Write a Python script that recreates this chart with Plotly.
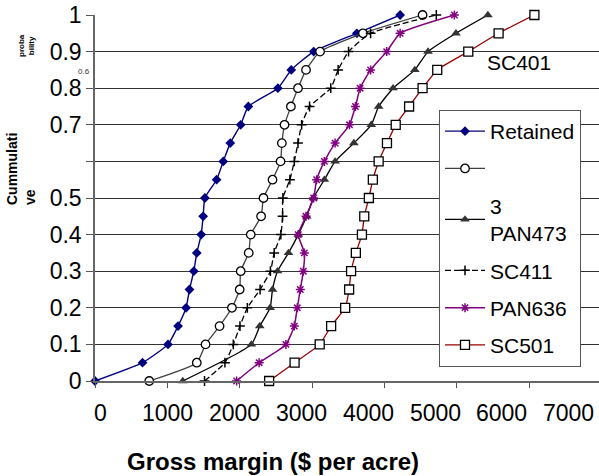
import plotly.graph_objects as go

# cumulative probability levels (shared by all series)
prob = [0, 0.05, 0.1, 0.15, 0.2, 0.25, 0.3, 0.35, 0.4, 0.45, 0.5,
        0.55, 0.6, 0.65, 0.7, 0.75, 0.8, 0.85, 0.9, 0.95, 1.0]

retained = [0, 657, 1009, 1148, 1259, 1306, 1366, 1407, 1468, 1495, 1519,
            1681, 1773, 1870, 2014, 2120, 2528, 2713, 3023, 3620, 4218]
sc401 = [750, 1407, 1528, 1722, 1893, 2000, 2014, 2125, 2153, 2296, 2329,
         2454, 2565, 2583, 2620, 2708, 2806, 2917, 3111, 3704, 4528]
pan473 = [1213, None, 2162, 2278, 2421, 2454, 2523, 2675, 2810, 2926, 3018,
          3171, 3319, 3578, 3819, 3921, 4120, 4421, 4604, 4990, 5431]
sc411 = [1514, 1796, 1912, 2004, 2106, 2282, 2425, 2477, 2569, 2593, 2597,
         2694, 2755, 2806, 2856, 2966, 3259, 3361, 3505, 3810, 4718]
pan636 = [1958, 2269, 2639, 2755, 2796, 2838, 2880, 2894, 2810, 2917, 3023,
          3064, 3171, 3319, 3518, 3600, 3665, 3810, 4032, 4218, 4968]
sc501 = [2407, 2759, 3106, 3264, 3458, 3513, 3540, 3606, 3690, 3722, 3786,
         3841, 3921, 4036, 4157, 4342, 4528, 4731, 5160, 5579, 6074]

names = ["Retained", " ", "3<br>PAN473", "SC411", "PAN636", "SC501"]
x_tick_labels = [0, 1000, 2000, 3000, 4000, 5000, 6000, 7000]
y_tick_vals = [0, 0.1, 0.2, 0.3, 0.4, 0.5, 0.6, 0.7, 0.8, 0.9, 1.0]
y_tick_text = ["0", "0.1", "0.2", "0.3", "0.4", "0.5", "", "0.7", "0.8", "0.9", "1"]

FONT = "Arial, Liberation Sans, sans-serif"
W, H = 599, 476
ML, MR, MT, MB = 95, 0, 15, 95
PW, PH = W - ML - MR, H - MT - MB

def px2paper(px, py):
    return (px - ML) / PW, (H - MB - py) / PH

fig = go.Figure()
styles = [
    (retained, dict(color="#000080", width=1.4, dash="solid"),
     dict(symbol="diamond", size=7.5, color="#000080")),
    (sc401, dict(color="#404040", width=1.3, dash="solid"),
     dict(symbol="circle", size=8.5, color="white", line=dict(color="black", width=1.3))),
    (pan473, dict(color="black", width=1.3, dash="solid"),
     dict(symbol="triangle-up", size=8.5, color="#333333")),
    (sc411, dict(color="black", width=1.3, dash="6px,3px"),
     dict(symbol="cross-thin", size=7, color="black", line=dict(color="black", width=1.5))),
    (pan636, dict(color="#800080", width=1.5, dash="solid"),
     dict(symbol="asterisk", size=7.5, color="#800080", line=dict(color="#800080", width=1.5))),
    (sc501, dict(color="#990000", width=1.3, dash="solid"),
     dict(symbol="square", size=9, color="white", line=dict(color="black", width=1.3))),
]
for name, (xs, ln, mk) in zip(names, styles):
    fig.add_trace(go.Scatter(
        x=xs, y=prob, name=name, mode="lines+markers",
        line=dict(shape="spline", smoothing=0.5, **ln), marker=mk,
        connectgaps=True, cliponaxis=False, legendgroup=name))

fig.update_layout(
    width=W, height=H,
    margin=dict(l=ML, r=MR, t=MT, b=MB, pad=0),
    paper_bgcolor="white", plot_bgcolor="white",
    font=dict(family=FONT, color="black", size=21),
    showlegend=True,
    legend=dict(x=px2paper(439, 0)[0], y=px2paper(0, 110)[1],
                xanchor="left", yanchor="top",
                bordercolor="#555555", borderwidth=1, bgcolor="white",
                font=dict(family=FONT, size=21), itemwidth=40,
                tracegroupgap=7),
    xaxis=dict(range=[0, 6967], tickvals=x_tick_labels[:-1], showticklabels=False,
               ticks="outside", ticklen=5, tickcolor="#555555", tickwidth=1,
               showline=True, linecolor="#666666", linewidth=1.5,
               showgrid=False, zeroline=False),
    yaxis=dict(range=[0, 1], tickvals=y_tick_vals, ticktext=y_tick_text,
               ticks="outside", ticklen=7, tickcolor="#555555",
               tickfont=dict(size=23),
               showline=True, linecolor="#666666", linewidth=1.5,
               showgrid=True, gridcolor="#333333", gridwidth=1, zeroline=False),
)

ann = []
# x tick labels (drawn slightly offset from tick marks, as in the reference)
for v in x_tick_labels:
    px = 100.4 + v * 0.06692
    xp, yp = px2paper(px, 413)
    ann.append(dict(x=xp, y=yp, xref="paper", yref="paper", text=str(v),
                    showarrow=False, xanchor="center", yanchor="middle",
                    font=dict(size=23)))
xp, yp = px2paper(273, 462)
ann.append(dict(x=xp, y=yp, xref="paper", yref="paper",
                text="<b>Gross margin ($ per acre)</b>", showarrow=False,
                xanchor="center", yanchor="middle", font=dict(size=24)))
xp, yp = px2paper(21, 169)
ann.append(dict(x=xp, y=yp, xref="paper", yref="paper",
                text="<b>Cummulati<br>ve</b>", showarrow=False, textangle=-90,
                align="left", xanchor="center", yanchor="middle",
                font=dict(size=14)))
xp, yp = px2paper(27, 46)
ann.append(dict(x=xp, y=yp, xref="paper", yref="paper",
                text="<b>proba<br>bility</b>", showarrow=False, textangle=-90,
                align="center", xanchor="center", yanchor="middle",
                font=dict(size=8)))
xp, yp = px2paper(84, 72)
ann.append(dict(x=xp, y=yp, xref="paper", yref="paper", text="0.6",
                showarrow=False, xanchor="center", yanchor="middle",
                font=dict(size=8, color="#333333")))
xp, yp = px2paper(519, 62)
ann.append(dict(x=xp, y=yp, xref="paper", yref="paper", text="SC401",
                showarrow=False, xanchor="center", yanchor="middle",
                font=dict(size=21)))
fig.update_layout(annotations=ann)

fig.write_html("out.html", config={"displayModeBar": False},
               post_script="document.body.style.margin='0';document.body.style.padding='0';")
